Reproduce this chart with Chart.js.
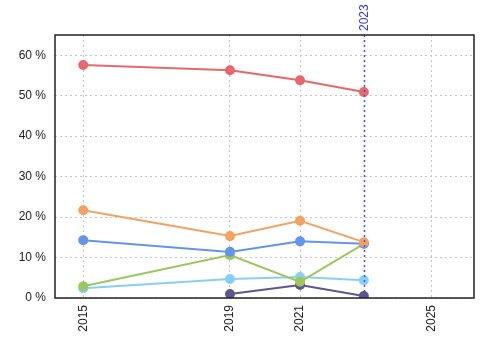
<!DOCTYPE html>
<html><head><meta charset="utf-8">
<script src="https://cdn.jsdelivr.net/npm/chart.js@4/dist/chart.umd.min.js"></script>
<style>html,body{margin:0;padding:0;background:#fff}#wrap{width:500px;height:350px}</style>
</head><body><div id="wrap"><canvas id="c" width="500" height="350"></canvas></div>
<script>
// x positions in decimal years (observations dated within the year)
const dates = [2015.0, 2019.21, 2021.22, 2023.05];
const xTickValues = [2015.0, 2019.21, 2021.22, 2025.0];
const xTickLabels = ['2015', '2019', '2021', '2025'];
const yTicks = [0, 10, 20, 30, 40, 50, 60];
const markerDate = 2023.05;
const markerLabel = '2023';
const seriesRed = [57.6, 56.3, 53.8, 50.9];
const seriesOrange = [21.7, 15.3, 19.1, 13.8];
const seriesBlue = [14.3, 11.4, 14.0, 13.4];
const seriesGreen = [2.9, 10.6, 4.0, 13.4];
const seriesLightBlue = [2.4, 4.7, 5.2, 4.4];
const seriesPurple = [null, 1.0, 3.2, 0.5];

const colors = ['#e8676b', '#f4a261', '#6495ed', '#9bc85a', '#87cefa', '#5f5690'];
const all = [seriesRed, seriesOrange, seriesBlue, seriesGreen, seriesLightBlue, seriesPurple];

const datasets = all.map((s, i) => ({
  data: dates.map((d, j) => ({x: d, y: s[j]})).filter(p => p.y !== null),
  borderColor: colors[i], backgroundColor: colors[i],
  pointBackgroundColor: colors[i], pointBorderColor: colors[i],
  borderWidth: 2, pointRadius: 4, pointHoverRadius: 4, tension: 0
}));

const framePlugin = {
  id: 'frame',
  afterDatasetsDraw(chart) {
    const {ctx, chartArea: a, scales: {x}} = chart;
    const px = Math.round(x.getPixelForValue(markerDate)) + 0.5;
    ctx.save();
    ctx.strokeStyle = '#4b4bf0';
    ctx.lineWidth = 1.5;
    ctx.setLineDash([2, 3]);
    ctx.beginPath(); ctx.moveTo(px, a.top); ctx.lineTo(px, a.bottom); ctx.stroke();
    ctx.setLineDash([]);
    ctx.strokeStyle = '#222';
    ctx.lineWidth = 1.5;
    ctx.strokeRect(a.left, a.top, a.right - a.left, a.bottom - a.top);
    ctx.translate(px, a.top - 4);
    ctx.rotate(-Math.PI / 2);
    ctx.fillStyle = '#3333ee';
    ctx.font = '12px "Liberation Sans", Arial, sans-serif';
    ctx.textAlign = 'left';
    ctx.textBaseline = 'middle';
    ctx.fillText(markerLabel, 0, 0);
    ctx.restore();
  }
};

new Chart(document.getElementById('c'), {
  type: 'line',
  data: {datasets},
  options: {
    responsive: false, animation: false,
    layout: {padding: {top: 35, right: 26, left: 0, bottom: 0}},
    plugins: {legend: {display: false}, tooltip: {enabled: false}},
    scales: {
      x: {
        type: 'linear', min: 2014.19, max: 2026.21,
        afterBuildTicks: s => { s.ticks = xTickValues.map(v => ({value: v})); },
        afterFit: s => { s.height = 52; },
        grid: {color: '#c4c4c4', lineWidth: 1, drawTicks: false},
        border: {display: false, dash: [2, 3]},
        ticks: {autoSkip: false, minRotation: 90, maxRotation: 90, padding: 7, color: '#222',
          font: {family: '"Liberation Sans", Arial, sans-serif', size: 12},
          callback: (v, i) => xTickLabels[i]}
      },
      y: {
        min: 0, max: 65,
        afterBuildTicks: s => { s.ticks = yTicks.map(v => ({value: v})); },
        afterFit: s => { s.width = 55; },
        grid: {color: '#c4c4c4', lineWidth: 1, drawTicks: false},
        border: {display: false, dash: [2, 3]},
        ticks: {padding: 9, color: '#222',
          font: {family: '"Liberation Sans", Arial, sans-serif', size: 12},
          callback: v => v + ' %'}
      }
    }
  },
  plugins: [framePlugin]
});
</script></body></html>
